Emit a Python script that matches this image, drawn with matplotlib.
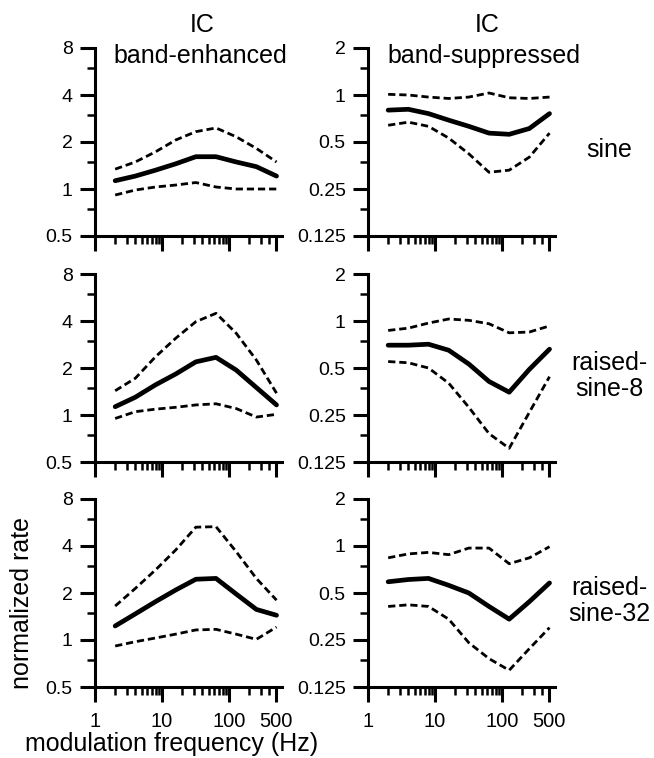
import matplotlib.pyplot as plt
import matplotlib.ticker as ticker
import numpy as np

plt.rcParams['font.family'] = ['Liberation Sans', 'DejaVu Sans']

# modulation frequencies (Hz)
freqs = [2, 4, 8, 16, 32, 64, 128, 256, 512]

# band-enhanced IC units: median and spread, per stimulus
enh_sine = [1.13, 1.21, 1.32, 1.45, 1.61, 1.61, 1.49, 1.39, 1.21]
enh_sine_hi = [1.34, 1.49, 1.73, 2.06, 2.33, 2.46, 2.16, 1.82, 1.49]
enh_sine_lo = [0.915, 0.985, 1.03, 1.06, 1.10, 1.03, 1.0, 1.0, 1.0]

enh_rs8 = [1.13, 1.30, 1.56, 1.83, 2.19, 2.34, 1.94, 1.50, 1.16]
enh_rs8_hi = [1.43, 1.72, 2.36, 3.10, 3.96, 4.48, 3.34, 2.25, 1.38]
enh_rs8_lo = [0.95, 1.05, 1.09, 1.12, 1.16, 1.18, 1.10, 0.97, 1.01]

enh_rs32 = [1.23, 1.47, 1.76, 2.09, 2.45, 2.48, 1.97, 1.57, 1.44]
enh_rs32_hi = [1.65, 2.14, 2.81, 3.77, 5.28, 5.32, 3.68, 2.48, 1.80]
enh_rs32_lo = [0.915, 0.975, 1.03, 1.09, 1.16, 1.17, 1.09, 1.01, 1.21]

# band-suppressed IC units
sup_sine = [0.80, 0.81, 0.76, 0.69, 0.63, 0.57, 0.56, 0.61, 0.76]
sup_sine_hi = [1.01, 1.0, 0.97, 0.95, 0.97, 1.03, 0.96, 0.95, 0.97]
sup_sine_lo = [0.64, 0.67, 0.63, 0.53, 0.42, 0.32, 0.33, 0.40, 0.57]

sup_rs8 = [0.70, 0.70, 0.71, 0.65, 0.53, 0.41, 0.35, 0.49, 0.66]
sup_rs8_hi = [0.87, 0.90, 0.97, 1.03, 1.01, 0.96, 0.84, 0.85, 0.93]
sup_rs8_lo = [0.55, 0.54, 0.50, 0.40, 0.28, 0.19, 0.153, 0.26, 0.44]

sup_rs32 = [0.59, 0.61, 0.62, 0.56, 0.50, 0.41, 0.34, 0.44, 0.58]
sup_rs32_hi = [0.84, 0.89, 0.91, 0.88, 0.97, 0.97, 0.77, 0.84, 0.99]
sup_rs32_lo = [0.41, 0.42, 0.41, 0.34, 0.24, 0.19, 0.16, 0.22, 0.30]

row_names = ['sine', 'raised-\nsine-8', 'raised-\nsine-32']

enh_ticks = [0.5, 1, 2, 4, 8]
enh_labels = ['0.5', '1', '2', '4', '8']
sup_ticks = [0.125, 0.25, 0.5, 1, 2]
sup_labels = ['0.125', '0.25', '0.5', '1', '2']

W, H = 654, 758
DECADE = 67.0          # pixels per decade on the frequency axis
OCT = 47.0             # pixels per octave on the rate axis
ax_w = 187
ax_h = 4 * OCT

fig = plt.figure(figsize=(W / 100, H / 100), dpi=100)


def make_axes(x0, y_top):
    return fig.add_axes([x0 / W, 1 - (y_top + ax_h) / H, ax_w / W, ax_h / H])


def style_axes(ax, yticks, ylabels, show_xlabels):
    ax.set_xscale('log')
    ax.set_yscale('log', base=2)
    ax.set_xlim(1, 10 ** (ax_w / DECADE))
    ax.set_ylim(yticks[0], yticks[-1])
    ax.spines['top'].set_visible(False)
    ax.spines['right'].set_visible(False)
    for s in ['left', 'bottom']:
        ax.spines[s].set_linewidth(2.2)
        ax.spines[s].set_capstyle('projecting')

    ax.xaxis.set_major_locator(ticker.FixedLocator([1, 10, 100, 500]))
    ax.xaxis.set_major_formatter(ticker.FixedFormatter(['1', '10', '100', '500']))
    minors = [m * d for d in (1, 10) for m in range(2, 10)] + [200, 300, 400]
    ax.xaxis.set_minor_locator(ticker.FixedLocator(minors))
    ax.xaxis.set_minor_formatter(ticker.NullFormatter())

    ax.yaxis.set_major_locator(ticker.FixedLocator(yticks))
    ax.yaxis.set_major_formatter(ticker.FixedFormatter(ylabels))
    ax.yaxis.set_minor_locator(ticker.FixedLocator([t * 1.5 for t in yticks[:-1]]))
    ax.yaxis.set_minor_formatter(ticker.NullFormatter())

    ax.tick_params(which='major', direction='out', length=11, width=2.2,
                   labelsize=14, pad=5)
    ax.tick_params(which='minor', direction='out', length=6, width=1.8)
    ax.tick_params(axis='x', which='major', labelsize=14.5, pad=7,
                   labelbottom=show_xlabels)


def draw_panel(ax, mid, hi, lo):
    ax.plot(freqs, hi, color='black', lw=2.0, ls=(0, (2.6, 1.4)), clip_on=False)
    ax.plot(freqs, lo, color='black', lw=2.0, ls=(0, (2.6, 1.4)), clip_on=False)
    ax.plot(freqs, mid, color='black', lw=3.4, solid_capstyle='round',
            solid_joinstyle='round', clip_on=False)


enh_rows = [(enh_sine, enh_sine_hi, enh_sine_lo),
            (enh_rs8, enh_rs8_hi, enh_rs8_lo),
            (enh_rs32, enh_rs32_hi, enh_rs32_lo)]
sup_rows = [(sup_sine, sup_sine_hi, sup_sine_lo),
            (sup_rs8, sup_rs8_hi, sup_rs8_lo),
            (sup_rs32, sup_rs32_hi, sup_rs32_lo)]
row_tops = [48, 274, 499]

for i, top in enumerate(row_tops):
    last = i == len(row_tops) - 1

    ax_l = make_axes(95, top)
    draw_panel(ax_l, *enh_rows[i])
    style_axes(ax_l, enh_ticks, enh_labels, last)

    ax_r = make_axes(368, top)
    draw_panel(ax_r, *sup_rows[i])
    style_axes(ax_r, sup_ticks, sup_labels, last)

    fig.text(609 / W, 1 - (top + 102) / H, row_names[i], ha='center',
             va='center', fontsize=18, linespacing=1.1)

# column headers
fig.text(202 / W, 1 - 25 / H, 'IC', ha='center', va='center', fontsize=18)
fig.text(200 / W, 1 - 56 / H, 'band-enhanced', ha='center', va='center', fontsize=18)
fig.text(487 / W, 1 - 25 / H, 'IC', ha='center', va='center', fontsize=18)
fig.text(484 / W, 1 - 56 / H, 'band-suppressed', ha='center', va='center', fontsize=18)

fig.text(172 / W, 1 - 744 / H, 'modulation frequency (Hz)', ha='center',
         va='center', fontsize=18)
fig.text(22 / W, 1 - 603 / H, 'normalized rate', ha='center', va='center',
         rotation=90, fontsize=18)

fig.savefig('out.png', dpi=100)
